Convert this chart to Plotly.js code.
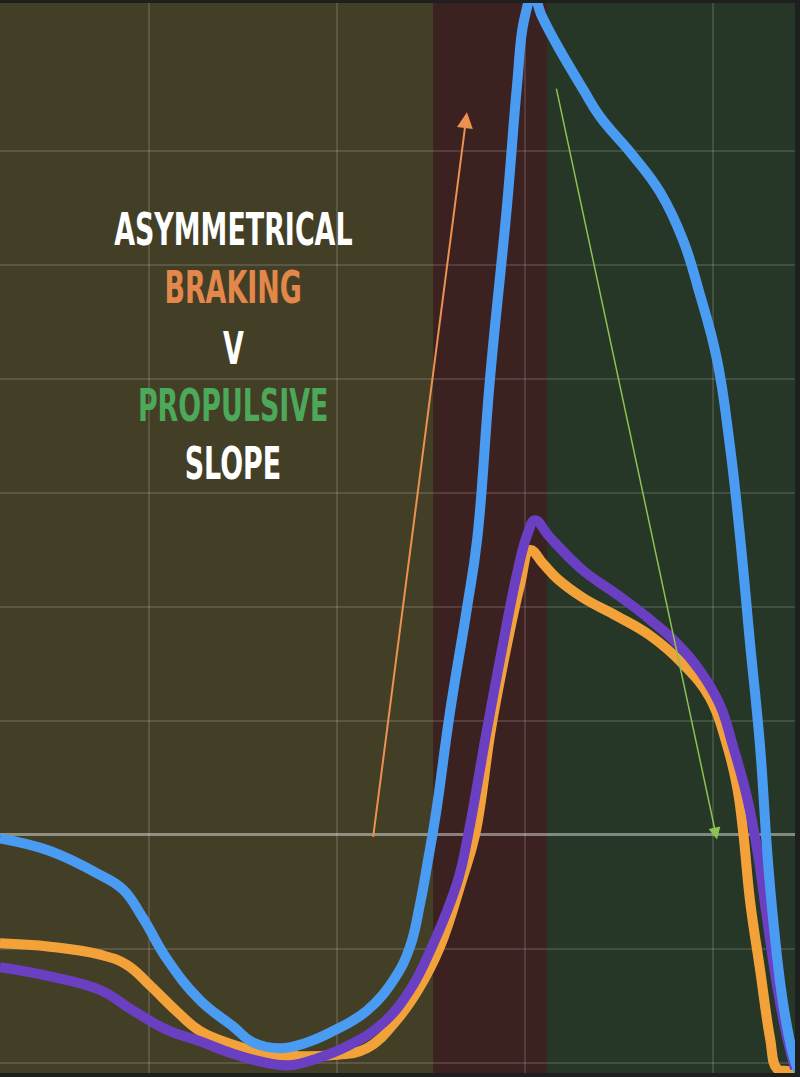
<!DOCTYPE html>
<html>
<head>
<meta charset="utf-8">
<script src="https://cdn.plot.ly/plotly-3.0.1.min.js"></script>
<style>
  html, body { margin: 0; padding: 0; background: #1d201f; }
  #chart { width: 800px; height: 1077px; }
  /* no condensed bold font installed: squeeze the headline instead */
  #chart .annotation-text {
    transform-box: fill-box;
    transform-origin: center;
    transform: scaleX(0.68);
  }
</style>
</head>
<body>
<div id="chart"></div>
<script>
/* =========================
   Data
========================= */
// blue curve
const blueX = [2.07, 4.73, 7.39, 8.62, 9.68, 10.96, 12.71, 14.47, 15.53, 16.97, 18.40, 19.79, 21.60, 23.09, 23.88, 24.41, 24.84, 25.27, 26.01, 26.91, 27.45, 28.14, 29.04, 29.57, 29.95, 30.43, 30.90, 31.70, 33.09, 33.99, 35.74, 37.18, 38.40, 39.27, 40.21, 40.90, 41.44, 41.97, 42.50, 42.87, 43.19, 43.72, 44.26, 44.63];
const blueY = [-0.03, -0.14, -0.35, -0.48, -0.73, -1.09, -1.45, -1.68, -1.82, -1.87, -1.82, -1.72, -1.54, -1.25, -0.98, -0.61, -0.22, 0.20, 1.08, 1.99, 2.59, 4.01, 5.52, 6.57, 7.15, 7.37, 7.18, 6.93, 6.54, 6.30, 5.96, 5.64, 5.22, 4.76, 4.17, 3.41, 2.61, 1.68, 0.78, -0.12, -0.73, -1.47, -1.93, -2.11];

// orange curve
const orangeX = [2.07, 4.73, 7.39, 8.83, 10.05, 11.49, 12.71, 14.47, 16.28, 18.03, 19.79, 21.60, 23.19, 24.31, 25.48, 26.65, 27.34, 28.19, 28.88, 29.73, 30.27, 30.96, 31.70, 33.09, 34.89, 36.65, 38.40, 39.84, 40.74, 41.28, 41.60, 41.97, 42.50, 43.03, 43.40, 43.94, 44.36];
const orangeY = [-0.95, -0.98, -1.05, -1.14, -1.32, -1.55, -1.72, -1.84, -1.92, -1.94, -1.93, -1.87, -1.62, -1.36, -0.98, -0.39, 0.00, 0.93, 1.54, 2.19, 2.50, 2.38, 2.25, 2.08, 1.92, 1.75, 1.50, 1.20, 0.79, 0.42, 0.03, -0.58, -1.18, -1.78, -2.05, -2.07, -2.07];

// purple curve
const purpleX = [2.07, 4.73, 7.39, 9.15, 10.96, 12.71, 14.47, 16.28, 17.50, 18.94, 20.69, 22.45, 23.88, 25.05, 26.44, 26.97, 27.98, 28.67, 29.57, 30.11, 30.53, 31.33, 33.09, 34.89, 36.65, 38.09, 39.31, 40.37, 41.06, 41.81, 42.34, 42.87, 43.40, 43.94, 44.36];
const purpleY = [-1.16, -1.24, -1.36, -1.54, -1.71, -1.81, -1.92, -2.00, -2.02, -1.96, -1.84, -1.65, -1.36, -0.98, -0.39, 0.00, 0.93, 1.54, 2.29, 2.63, 2.76, 2.61, 2.32, 2.11, 1.89, 1.68, 1.44, 1.14, 0.78, 0.33, -0.12, -0.73, -1.32, -1.78, -2.05];

// phase bands: [start, end]
const phaseStart = [2.07, 25.11, 31.17];
const phaseEnd = [25.11, 31.17, 44.36];
const phaseColors = ["#433f27", "#3c2121", "#263627"];

// slope arrows: tail -> head
const arrowTailX = [21.91, 31.65];
const arrowTailY = [-0.03, 6.56];
const arrowHeadX = [26.91, 40.21];
const arrowHeadY = [6.34, -0.04];
const arrowColors = ["#ec9150", "#8cc250"];
const arrowWidths = [2, 1.5];

// headline
const titleLines = ["ASYMMETRICAL", "BRAKING", "V", "PROPULSIVE", "SLOPE"];
const titleColors = ["#ffffff", "#e3874a", "#ffffff", "#4ca95a", "#ffffff"];
const titleY = [5.31, 4.80, 4.27, 3.77, 3.26];

const gridX = [10, 20, 30, 40];
const gridY = [-2, -1, 0, 1, 2, 3, 4, 5, 6];

/* =========================
   Plot
========================= */
const lineCommon = { width: 10, shape: "spline", smoothing: 1.2 };

const traces = [
  { x: orangeX, y: orangeY, type: "scatter", mode: "lines", line: Object.assign({ color: "#f3a23a" }, lineCommon), hoverinfo: "skip" },
  { x: purpleX, y: purpleY, type: "scatter", mode: "lines", line: Object.assign({ color: "#6a3fc1" }, lineCommon), hoverinfo: "skip" },
  { x: blueX, y: blueY, type: "scatter", mode: "lines", line: Object.assign({ color: "#4a9cf2" }, lineCommon), hoverinfo: "skip" }
];

const shapes = phaseStart.map((s, i) => ({
  type: "rect", xref: "x", yref: "paper", x0: s, x1: phaseEnd[i], y0: 0, y1: 1,
  fillcolor: phaseColors[i], line: { width: 0 }, layer: "below"
}));

const annotations = [];
for (let i = 0; i < arrowTailX.length; i++) {
  annotations.push({
    x: arrowHeadX[i], y: arrowHeadY[i], ax: arrowTailX[i], ay: arrowTailY[i],
    xref: "x", yref: "y", axref: "x", ayref: "y",
    text: "", showarrow: true, arrowhead: 2, arrowsize: 1.6,
    arrowwidth: arrowWidths[i], arrowcolor: arrowColors[i], standoff: 0
  });
}
titleLines.forEach((t, i) => {
  annotations.push({
    x: 14.47, y: titleY[i], xref: "x", yref: "y", showarrow: false,
    text: "<b>" + t + "</b>",
    font: { family: "Liberation Sans Narrow, DejaVu Sans Condensed, Arial Narrow, sans-serif", size: 44, color: titleColors[i] }
  });
});

const layout = {
  width: 800, height: 1077,
  margin: { l: 0, r: 5, t: 3, b: 4 },
  paper_bgcolor: "#1d201f",
  plot_bgcolor: "#433f27",
  showlegend: false,
  xaxis: {
    range: [2.07, 44.36], tickvals: gridX, showticklabels: false,
    gridcolor: "rgba(255,255,255,0.13)", gridwidth: 2, zeroline: false, showline: false, fixedrange: true
  },
  yaxis: {
    range: [-2.088, 7.298], tickvals: gridY, showticklabels: false,
    gridcolor: "rgba(255,255,255,0.13)", gridwidth: 2,
    zeroline: true, zerolinecolor: "rgba(255,255,255,0.42)", zerolinewidth: 3, showline: false, fixedrange: true
  },
  shapes: shapes,
  annotations: annotations
};

Plotly.newPlot("chart", traces, layout, { displayModeBar: false, staticPlot: true });
</script>
</body>
</html>
